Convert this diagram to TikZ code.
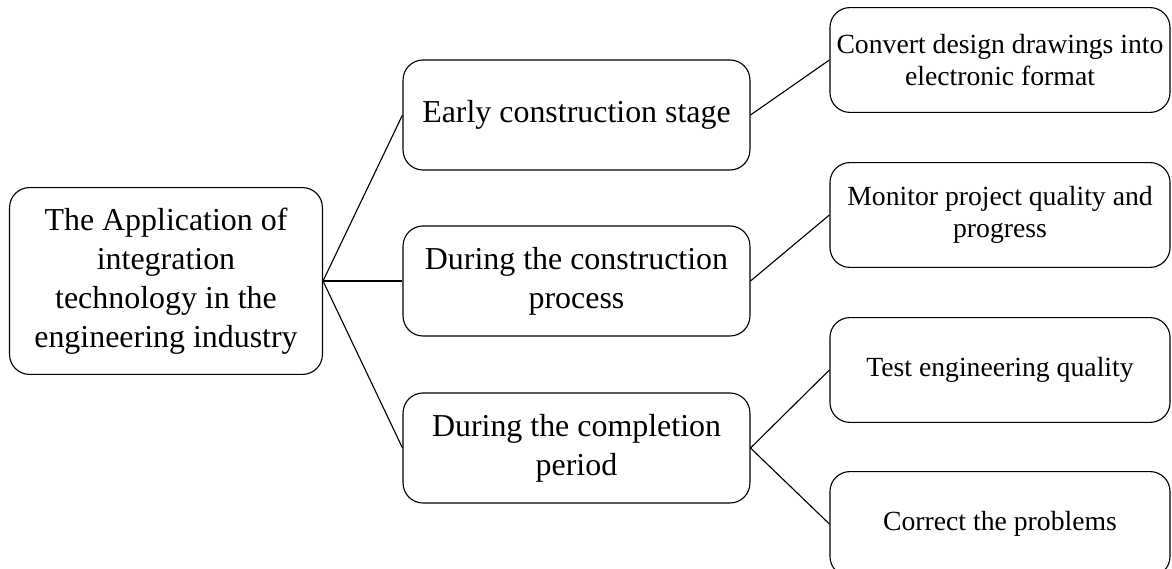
\documentclass[tikz,border=0pt]{standalone}
\usepackage{fontspec}
\setmainfont{Liberation Serif}
\usetikzlibrary{positioning}

\begin{document}
\begin{tikzpicture}[
  x=0.025cm, y=-0.025cm,
  rootbox/.style={draw, line width=0.8pt, rounded corners=0.5cm, align=center, minimum width=7.82cm, minimum height=4.67cm, font=\fontsize{22.7}{27.7}\selectfont},
  stagebox/.style={draw, line width=0.8pt, rounded corners=0.5cm, align=center, minimum width=8.67cm, minimum height=2.75cm, font=\fontsize{22.7}{27.7}\selectfont},
  taskbox/.style={draw, line width=0.8pt, rounded corners=0.5cm, align=center, minimum width=8.5cm, minimum height=2.62cm, font=\fontsize{19.7}{22.7}\selectfont},
  link/.style={line width=0.8pt}
]
  \useasboundingbox (0,0) rectangle (1172,569);

  % root
  \node[rootbox] (app) at (166,281) {The Application of\\integration\\technology in the\\engineering industry};

  % stages
  \node[stagebox] (early) at (576.5,115) {Early construction stage};
  \node[stagebox] (during) at (576.5,281) {During the construction\\process};
  \node[stagebox] (complete) at (576.5,448) {During the completion\\period};

  % tasks
  \node[taskbox] (convert) at (1000,60) {Convert design drawings into\\electronic format};
  \node[taskbox] (monitor) at (1000,215) {Monitor project quality and\\progress};
  \node[taskbox] (test) at (1000,370) {Test engineering quality};
  \node[taskbox] (correct) at (1000,524) {Correct the problems};

  \foreach \s in {early, during, complete} {
    \draw[link] (app.east) -- (\s.west);
  }
  \foreach \a/\b in {early/convert, during/monitor, complete/test, complete/correct} {
    \draw[link] (\a.east) -- (\b.west);
  }
\end{tikzpicture}
\end{document}
